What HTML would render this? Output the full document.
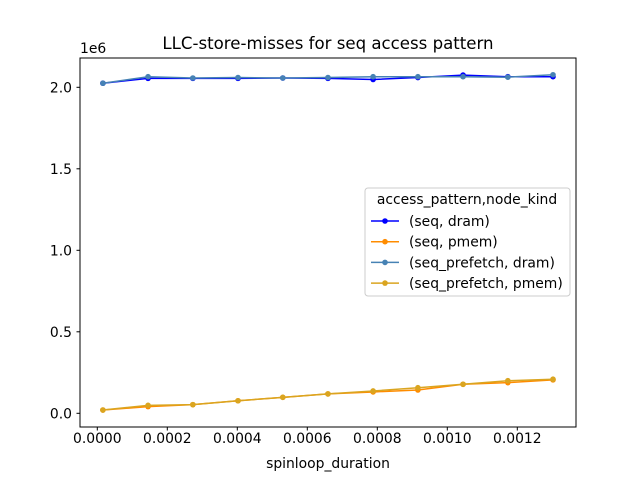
<!DOCTYPE html>
<html><head><meta charset="utf-8"><style>
body{margin:0;background:#fff}
svg text{font-family:"DejaVu Sans","Liberation Sans",sans-serif;fill:#000}
</style></head><body>
<svg width="640" height="480">
<rect width="640" height="480" fill="#fff"/>
<text x="328" y="49" font-size="16.6" text-anchor="middle">LLC-store-misses for seq access pattern</text>
<g id="plot"></g>
<rect x="80" y="58" width="496" height="369" fill="none" stroke="#000" stroke-width="1"/>
<g id="xt"></g><g id="yt"></g>
<text x="80" y="53" font-size="13.9">1e6</text>
<text x="328" y="468" font-size="13.9" text-anchor="middle">spinloop_duration</text>
<g>
<rect x="365" y="188" width="205" height="108" rx="3" fill="#fff" fill-opacity="0.8" stroke="#ccc"/>
<text x="467" y="204" font-size="13.9" text-anchor="middle">access_pattern,node_kind</text>
<g id="leg"></g>
</g>
</svg>
<script>
const xVals=[0.000016,0.000145,0.000273,0.000402,0.000530,0.000659,0.000788,0.000916,0.001045,0.001173,0.001302];
const seqDram=[2.025,2.055,2.055,2.055,2.057,2.055,2.048,2.06,2.075,2.065,2.065];
const seqPmem=[0.020,0.041,0.053,0.077,0.098,0.119,0.131,0.143,0.178,0.188,0.205];
const pfDram=[2.025,2.065,2.057,2.06,2.057,2.06,2.065,2.065,2.065,2.062,2.077];
const pfPmem=[0.020,0.049,0.053,0.077,0.098,0.119,0.137,0.157,0.178,0.200,0.209];
const seriesNames=["(seq, dram)","(seq, pmem)","(seq_prefetch, dram)","(seq_prefetch, pmem)"];
const xTicks=[0,0.0002,0.0004,0.0006,0.0008,0.0010,0.0012];
const xTickLabels=["0.0000","0.0002","0.0004","0.0006","0.0008","0.0010","0.0012"];
const yTicks=[0,0.5,1.0,1.5,2.0];
const yTickLabels=["0.0","0.5","1.0","1.5","2.0"];
const colors=["#0000ff","#ff8c00","#4682b4","#daa520"];
const NS="http://www.w3.org/2000/svg";
const X=v=>97.3+v*350000;
const Y=v=>413.3-v*163;
function mk(t,a,p){const e=document.createElementNS(NS,t);for(const k in a)e.setAttribute(k,a[k]);p.appendChild(e);return e;}
const plot=document.getElementById('plot');
[seqDram,seqPmem,pfDram,pfPmem].forEach((s,i)=>{
 const g=mk('g',{},plot);
 
 
 mk('polyline',{points:s.map((v,j)=>X(xVals[j])+','+Y(v)).join(' '),fill:'none',stroke:colors[i],'stroke-width':1.5},g);
 s.forEach((v,j)=>{const c=mk('circle',{cx:X(xVals[j]),cy:Y(v),r:2.8,fill:colors[i]},g);
  
  });
});
const xt=document.getElementById('xt');
xTicks.forEach((v,i)=>{mk('line',{x1:X(v),x2:X(v),y1:427,y2:430.5,stroke:'#000'},xt);
 const t=mk('text',{x:X(v),y:443,'font-size':13.9,'text-anchor':'middle'},xt);t.textContent=xTickLabels[i];
 
 });
const yt=document.getElementById('yt');
yTicks.forEach((v,i)=>{mk('line',{x1:76.5,x2:80,y1:Y(v),y2:Y(v),stroke:'#000'},yt);
 const t=mk('text',{x:72,y:Y(v)+5,'font-size':13.9,'text-anchor':'end'},yt);t.textContent=yTickLabels[i];
 
 });
const leg=document.getElementById('leg');
seriesNames.forEach((n,i)=>{const y=221+i*20.7;
 const g=mk('g',{},leg);
 
 
 mk('line',{x1:371,x2:399,y1:y,y2:y,stroke:colors[i],'stroke-width':1.5},g);
 mk('circle',{cx:385,cy:y,r:2.8,fill:colors[i]},g);
 const t=mk('text',{x:409,y:y+5,'font-size':13.9},g);t.textContent=n;});
</script>
</body></html>
